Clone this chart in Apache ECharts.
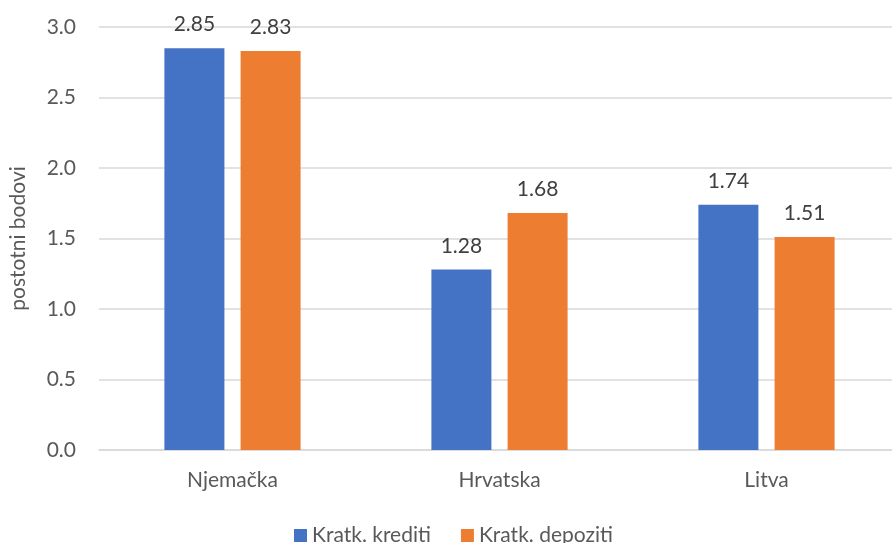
<!DOCTYPE html>
<html><head><meta charset="utf-8">
<script src="https://cdn.jsdelivr.net/npm/echarts@6/dist/echarts.min.js"></script>
<style>html,body{margin:0;padding:0;background:#fff;overflow:hidden}#c{width:910px;height:543px}</style>
</head><body><div id="c"></div>
<script>
const categories = ['Njemačka', 'Hrvatska', 'Litva'];
const seriesNames = ['Kratk. krediti', 'Kratk. depoziti'];
const krediti = [2.85, 1.28, 1.74];
const depoziti = [2.83, 1.68, 1.51];
const yAxisName = 'postotni bodovi';

const FONT = 'Lato';
const TXT = '#595959';
const FS = 21;
const chart = echarts.init(document.getElementById('c'));
const labelCfg = {show: true, position: 'top', distance: 13, color: '#404040', fontFamily: FONT, fontSize: FS, formatter: p => p.value.toFixed(2)};
chart.setOption({
  animation: false,
  color: ['#4472C4', '#ED7D31'],
  grid: {left: 96, top: 27, right: 10, height: 423},
  legend: {
    top: 520, left: 289, itemWidth: 13, itemHeight: 13, itemGap: 30, icon: 'rect',
    textStyle: {color: TXT, fontFamily: FONT, fontSize: FS}
  },
  xAxis: {
    type: 'category', data: categories,
    axisLine: {lineStyle: {color: '#D9D9D9', width: 1.5}},
    axisTick: {show: false},
    axisLabel: {color: TXT, fontFamily: FONT, fontSize: FS, margin: 20}
  },
  yAxis: {
    type: 'value', min: 0, max: 3, interval: 0.5,
    name: yAxisName, nameLocation: 'middle', nameGap: 70, nameRotate: 90,
    nameTextStyle: {color: TXT, fontFamily: FONT, fontSize: FS},
    axisLine: {show: false}, axisTick: {show: false},
    axisLabel: {color: TXT, fontFamily: FONT, fontSize: FS, margin: 23, formatter: v => v.toFixed(1)},
    splitLine: {lineStyle: {color: '#D9D9D9', width: 1.5}}
  },
  series: [
    {name: seriesNames[0], type: 'bar', data: krediti, barWidth: 60, barGap: '27%', label: labelCfg},
    {name: seriesNames[1], type: 'bar', data: depoziti, barWidth: 60, label: labelCfg}
  ]
});
</script></body></html>
